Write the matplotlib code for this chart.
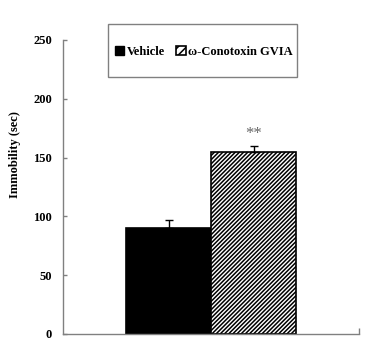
import matplotlib
matplotlib.use("Agg")
import matplotlib.pyplot as plt
from matplotlib.patches import Rectangle, Patch

groups = ["Vehicle", "ω-Conotoxin GVIA"]
means = [90, 155]
errors = [7, 5]
yticks = [0, 50, 100, 150, 200, 250]
sig_label = "**"

plt.rcParams['font.family'] = ['Liberation Serif', 'DejaVu Serif']
plt.rcParams['font.weight'] = 'bold'
plt.rcParams['hatch.linewidth'] = 1.1

fig = plt.figure(figsize=(3.79, 3.62), dpi=100)
ax = fig.add_axes([63/379, 1-334/362, (359-63)/379, (334-40)/362])

x = [0, 1]
fills = ['black', 'white']
hatches = [None, '////////']
for xi, m, f, h in zip(x, means, fills, hatches):
    ax.bar(xi, m, width=1.0, color=f, edgecolor='black', linewidth=1.2, hatch=h, zorder=2)
ax.errorbar(x, means, yerr=[[0, 0], errors], fmt='none', ecolor='black',
            elinewidth=1, capsize=3, capthick=1, zorder=3)
ax.text(x[1], means[1] + errors[1] + 3, sig_label, ha='center', va='bottom',
        fontsize=12, color='#666666', fontweight='normal')

xl = (-0.5 - 63/85, 1.5 + 63/85)
ax.set_xlim(*xl)
ax.set_ylim(0, 250)
ax.set_yticks(yticks)
ax.set_yticklabels([str(t) for t in yticks], fontsize=9, fontweight='bold')
ax.set_xticks([xl[1]])
ax.set_xticklabels([])
ax.tick_params(axis='y', direction='in', length=3, color='#808080', width=1, pad=8)
ax.tick_params(axis='x', direction='in', length=4, color='#808080', width=1)
for s in ['top', 'right']:
    ax.spines[s].set_visible(False)
for s in ['left', 'bottom']:
    ax.spines[s].set_color('#808080')
    ax.spines[s].set_linewidth(1)

fig.text(15/379, 1-155/362, "Immobility (sec)", rotation=90, ha='center', va='center',
         fontsize=9, fontweight='bold')

frame = Rectangle((108/379, 1-77/362), 189/379, 53/362, transform=fig.transFigure,
                  fill=False, edgecolor='#808080', linewidth=1)
fig.patches.append(frame)
handles = [Patch(facecolor='black', edgecolor='black'),
           Patch(facecolor='white', edgecolor='black', hatch='////', linewidth=1.2)]
fig.legend(handles, groups, loc='center', bbox_to_anchor=(204/379, 1-52/362),
           ncol=2, frameon=False, prop={'weight': 'bold', 'size': 9},
           handlelength=0.75, handleheight=0.75, handletextpad=0.2, columnspacing=0.9)

fig.savefig("out.png", dpi=100)
